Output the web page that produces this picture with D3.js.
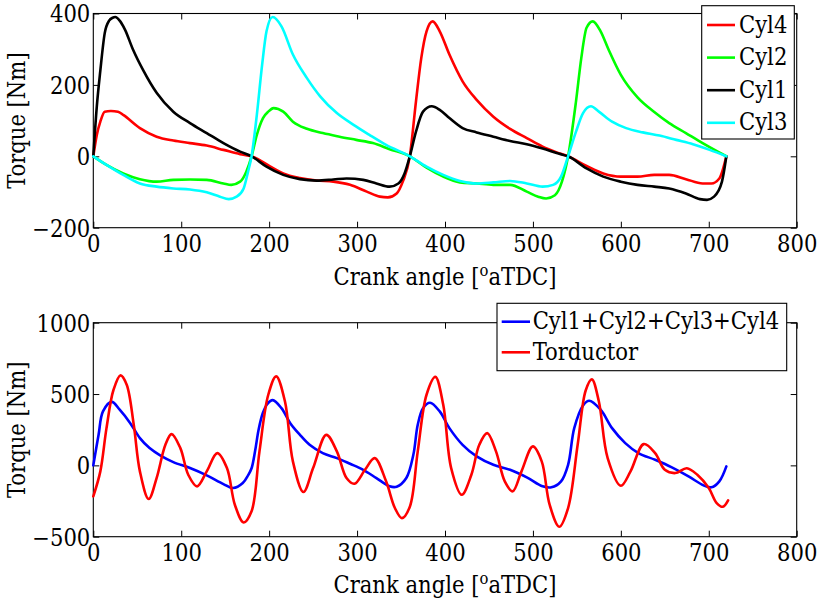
<!DOCTYPE html>
<html>
<head>
<meta charset="utf-8">
<script src="https://cdn.jsdelivr.net/npm/d3@7"></script>
<style>
  html, body { margin: 0; padding: 0; background: #fff; }
  svg { display: block; }
</style>
</head>
<body>
<svg id="chart" width="821" height="604"></svg>
<script>
// ---- Axis ticks ----
const xTicks = [0, 100, 200, 300, 400, 500, 600, 700, 800];
const topYTicks = [-200, 0, 200, 400];
const bottomYTicks = [-500, 0, 500, 1000];

// ---- Cylinder torques [Nm] vs crank angle [deg aTDC] ----
const cyl4Angle  = [0, 4, 8, 13, 20, 28, 34, 53, 72, 91, 110, 129, 148, 167, 180, 201, 216, 235, 254, 273, 292, 311, 326, 335, 345, 352, 360, 367, 373, 379, 386, 394, 405, 420, 436, 455, 474, 493, 511, 527, 540, 561, 580, 600, 619, 638, 655, 674, 693, 703, 712, 720];
const cyl4Torque = [0, 60, 97, 125, 127, 125, 116, 79, 55, 44, 37, 30, 18, 6, 0, -28, -48, -61, -68, -71, -80, -99, -113, -115, -104, -71, 0, 154, 275, 350, 378, 350, 285, 210, 158, 111, 77, 51, 27, 11, 0, -27, -48, -57, -57, -52, -52, -64, -76, -76, -62, 0];

const cyl2Angle  = [0, 15, 34, 53, 72, 91, 110, 129, 148, 157, 167, 174, 180, 186, 193, 199, 205, 216, 227, 243, 261, 280, 299, 318, 337, 360, 379, 398, 417, 436, 455, 474, 493, 506, 515, 525, 533, 540, 549, 555, 561, 568, 577, 586, 600, 619, 638, 655, 674, 693, 720];
const cyl2Torque = [0, -24, -48, -64, -71, -66, -65, -66, -76, -80, -71, -43, 0, 60, 107, 125, 135, 125, 97, 77, 65, 55, 46, 37, 20, 0, -32, -57, -73, -76, -80, -80, -99, -113, -118, -109, -71, 0, 154, 275, 360, 378, 350, 299, 228, 165, 124, 93, 65, 37, 0];

const cyl1Angle  = [0, 4, 8, 13, 18, 22, 25, 30, 36, 45, 57, 72, 91, 110, 129, 148, 167, 180, 197, 216, 235, 254, 273, 288, 307, 322, 337, 347, 354, 360, 367, 375, 385, 394, 405, 420, 436, 455, 474, 493, 511, 530, 540, 561, 580, 600, 619, 638, 655, 674, 690, 698, 706, 715, 720];
const cyl1Torque = [0, 140, 240, 345, 380, 388, 390, 380, 355, 300, 240, 178, 125, 93, 65, 37, 13, 0, -29, -52, -64, -68, -65, -62, -66, -76, -85, -76, -48, 0, 69, 125, 140, 130, 107, 79, 67, 55, 43, 34, 22, 7, 0, -34, -57, -71, -80, -85, -90, -104, -120, -122, -113, -71, 0];

const cyl3Angle  = [0, 15, 34, 53, 72, 91, 110, 129, 144, 154, 163, 171, 176, 180, 186, 192, 197, 204, 214, 227, 243, 258, 277, 296, 314, 333, 360, 379, 398, 417, 436, 455, 474, 493, 511, 523, 532, 540, 549, 557, 566, 575, 590, 606, 625, 644, 663, 682, 701, 720];
const cyl3Torque = [0, -24, -52, -76, -85, -90, -93, -101, -113, -120, -113, -90, -43, 0, 116, 256, 350, 390, 364, 285, 219, 168, 121, 88, 60, 32, 0, -29, -52, -69, -76, -73, -69, -76, -85, -80, -57, 0, 69, 121, 140, 125, 97, 79, 67, 58, 46, 34, 18, 0];

// ---- Total torque: summed cylinders and Torductor measurement ----
const sumAngle  = [0, 6, 11, 21, 30, 42, 53, 64, 76, 91, 110, 129, 148, 159, 170, 176, 180, 184, 188, 193, 198, 204, 214, 224, 235, 246, 261, 277, 292, 307, 322, 337, 345, 356, 364, 369, 375, 383, 394, 405, 420, 436, 455, 474, 493, 511, 521, 532, 540, 547, 557, 564, 577, 590, 605, 620, 639, 658, 677, 694, 703, 712, 720];
const sumTorque = [0, 214, 378, 445, 390, 296, 191, 121, 70, 23, -19, -70, -131, -159, -124, -70, -20, 100, 250, 370, 430, 457, 401, 296, 214, 144, 86, 51, 11, -31, -89, -147, -150, -89, 74, 285, 401, 439, 378, 261, 144, 63, 4, -31, -84, -147, -154, -112, 4, 261, 420, 453, 390, 261, 156, 86, 39, -14, -77, -140, -154, -112, -7];

const torAngle  = [0, 8, 15, 23, 31, 38, 46, 53, 63, 72, 82, 89, 99, 108, 118, 129, 141, 152, 161, 171, 180, 189, 199, 208, 218, 227, 239, 250, 265, 277, 288, 297, 309, 320, 333, 343, 351, 360, 369, 379, 389, 398, 407, 419, 430, 439, 448, 458, 468, 477, 487, 500, 510, 519, 530, 540, 551, 560, 567, 575, 585, 600, 611, 626, 639, 650, 662, 675, 687, 700, 709, 716, 722];
const torTorque = [-217, -42, 261, 530, 631, 565, 285, -42, -236, -89, 144, 219, 121, -66, -147, -42, 86, -19, -276, -400, -322, 98, 495, 624, 448, 28, -187, -19, 214, 98, -89, -129, -31, 51, -112, -299, -370, -290, 98, 495, 620, 425, -19, -206, -66, 144, 226, 98, -112, -182, -42, 133, 28, -276, -430, -299, 150, 525, 603, 448, 51, -143, -42, 149, 86, -31, -54, -20, -66, -159, -264, -290, -245];

const topSeries = [
  { name: "Cyl4", color: "#ff0000", angle: cyl4Angle, torque: cyl4Torque },
  { name: "Cyl2", color: "#00ff00", angle: cyl2Angle, torque: cyl2Torque },
  { name: "Cyl1", color: "#000000", angle: cyl1Angle, torque: cyl1Torque },
  { name: "Cyl3", color: "#00ffff", angle: cyl3Angle, torque: cyl3Torque }
];
const bottomSeries = [
  { name: "Cyl1+Cyl2+Cyl3+Cyl4", color: "#0000ff", angle: sumAngle, torque: sumTorque },
  { name: "Torductor", color: "#ff0000", angle: torAngle, torque: torTorque }
];

const svg = d3.select("#chart");
const FAMILY = "'DejaVu Serif Condensed', 'DejaVu Serif', serif";
const FONT = 23.5;
const plotLeft = 93.3, plotRight = 796.7;

function styleText(sel) {
  return sel.style("font-family", FAMILY).style("font-size", FONT + "px").attr("fill", "#000");
}

function drawPanel(opts) {
  const x = d3.scaleLinear().domain([0, 800]).range([plotLeft, plotRight]);
  const y = d3.scaleLinear().domain(opts.yDomain).range([opts.bottom, opts.top]);
  const g = svg.append("g");

  // inward ticks on all four sides (boxed axes)
  const tickLen = 6;
  const fmt = d => d3.format("d")(d).replace("-", "\u2212");

  const xb = g.append("g").attr("transform", `translate(0,${opts.bottom})`)
    .call(d3.axisBottom(x).tickValues(xTicks).tickSizeInner(-tickLen).tickSizeOuter(0).tickPadding(8).tickFormat(fmt));
  const xt = g.append("g").attr("transform", `translate(0,${opts.top})`)
    .call(d3.axisTop(x).tickValues(xTicks).tickSizeInner(-tickLen).tickSizeOuter(0).tickFormat(""));
  const yl = g.append("g").attr("transform", `translate(${plotLeft},0)`)
    .call(d3.axisLeft(y).tickValues(opts.yTicks).tickSizeInner(-tickLen).tickSizeOuter(0).tickPadding(3).tickFormat(fmt));
  const yr = g.append("g").attr("transform", `translate(${plotRight},0)`)
    .call(d3.axisRight(y).tickValues(opts.yTicks).tickSizeInner(-tickLen).tickSizeOuter(0).tickFormat(""));

  [xb, xt, yl, yr].forEach(a => {
    a.attr("font-family", null).attr("font-size", null);
    a.select(".domain").remove();
    a.selectAll("line").attr("stroke", "#000").attr("stroke-width", 1);
    styleText(a.selectAll("text"));
  });
  yl.selectAll("text").attr("dy", "0.36em");

  // frame
  g.append("rect")
    .attr("x", plotLeft).attr("y", opts.top)
    .attr("width", plotRight - plotLeft).attr("height", opts.bottom - opts.top)
    .attr("fill", "none").attr("stroke", "#000").attr("stroke-width", 1.1);

  // series
  opts.series.forEach(s => {
    const line = d3.line().x(d => x(d[0])).y(d => y(d[1])).curve(opts.curve);
    g.append("path")
      .datum(d3.zip(s.angle, s.torque))
      .attr("d", line)
      .attr("fill", "none")
      .attr("stroke", s.color)
      .attr("stroke-width", 2.6)
      .attr("stroke-linejoin", "round")
      .attr("stroke-linecap", "round");
  });

  // axis labels
  const xl = styleText(g.append("text"))
    .attr("x", (plotLeft + plotRight) / 2).attr("y", opts.xLabelY)
    .attr("text-anchor", "middle");
  xl.append("tspan").text("Crank angle [");
  xl.append("tspan").text("o").style("font-size", (FONT * 0.7) + "px").attr("dy", "-0.55em");
  xl.append("tspan").text("aTDC]").attr("dy", "0.38em");

  styleText(g.append("text"))
    .attr("transform", `translate(25,${(opts.top + opts.bottom) / 2}) rotate(-90)`)
    .attr("text-anchor", "middle")
    .text("Torque [Nm]");

  // legend
  const L = opts.legend;
  const lg = g.append("g");
  lg.append("rect")
    .attr("x", L.x0).attr("y", L.y0).attr("width", L.x1 - L.x0).attr("height", L.y1 - L.y0)
    .attr("fill", "#fff").attr("stroke", "#000").attr("stroke-width", 1.1);
  L.order.forEach((idx, i) => {
    const s = opts.series[idx];
    const ly = L.firstY + i * L.step;
    lg.append("line")
      .attr("x1", L.lineX0).attr("x2", L.lineX1).attr("y1", ly).attr("y2", ly)
      .attr("stroke", s.color).attr("stroke-width", 2.6);
    styleText(lg.append("text"))
      .attr("x", L.textX).attr("y", ly + 7.5)
      .text(s.name);
  });
}

drawPanel({
  top: 13.5, bottom: 227.7,
  yDomain: [-200, 400], yTicks: topYTicks,
  series: topSeries,
  curve: d3.curveMonotoneX,
  xLabelY: 285,
  legend: { x0: 701.7, x1: 794.3, y0: 5.7, y1: 139, firstY: 25, step: 32.6,
            lineX0: 707, lineX1: 735, textX: 739, order: [0, 1, 2, 3] }
});

drawPanel({
  top: 322.7, bottom: 536.7,
  yDomain: [-500, 1000], yTicks: bottomYTicks,
  series: bottomSeries,
  curve: d3.curveCatmullRom.alpha(0.5),
  xLabelY: 593,
  legend: { x0: 497, x1: 786.7, y0: 303.3, y1: 370.7, firstY: 321.7, step: 30.6,
            lineX0: 501.7, lineX1: 530, textX: 532.7, order: [0, 1] }
});
</script>
</body>
</html>
